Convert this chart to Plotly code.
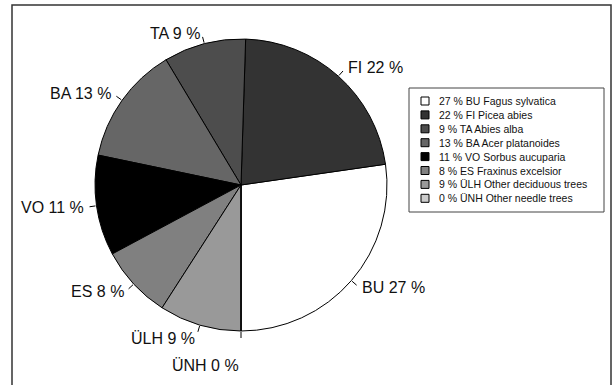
import math
import plotly.graph_objects as go

# Tree species shares of the stand
codes = ["BU", "FI", "TA", "BA", "VO", "ES", "ÜLH", "ÜNH"]
names = ["Fagus sylvatica", "Picea abies", "Abies alba", "Acer platanoides",
         "Sorbus aucuparia", "Fraxinus excelsior", "Other deciduous trees",
         "Other needle trees"]
shares = [27, 22, 9, 13, 11, 8, 9, 0]
colors = ["#ffffff", "#333333", "#4d4d4d", "#666666", "#000000", "#808080",
          "#999999", "#cccccc"]

# Page geometry (pixels)
W, H = 612, 385
cx, cy, R = 241, 185, 146          # pie centre and radius
FONT = "Arial, Liberation Sans, Helvetica, sans-serif"

# Extra shift (px, screen coords) for labels that would collide
label_nudge = {"ÜNH": (0, 23), "ÜLH": (0, 3)}


def px(x):
    return x / W


def py(y):
    return 1 - y / H


total = sum(shares)
spans = [s / total * 360 for s in shares]
# First slice (BU) runs clockwise up to six o'clock; the rest go counterclockwise
rotation = 180 - spans[0]

fig = go.Figure(go.Pie(
    labels=codes,
    values=shares,
    sort=False,
    direction="counterclockwise",
    rotation=rotation,
    marker=dict(colors=colors, line=dict(color="#000000", width=1)),
    textinfo="none",
    hoverinfo="skip",
    showlegend=False,
    domain=dict(x=[px(cx - R), px(cx + R)], y=[py(cy + R), py(cy - R)]),
))

# Mid-angle of each slice, degrees clockwise from twelve o'clock
mids = [rotation + spans[0] / 2]
edge = rotation
for s in spans[1:]:
    mids.append(edge - s / 2)
    edge -= s

shapes = []
annotations = []
for code, share, ang in zip(codes, shares, mids):
    t = math.radians(ang)
    sx, sy = math.sin(t), -math.cos(t)
    # short leader tick
    shapes.append(dict(type="line", xref="paper", yref="paper",
                       x0=px(cx + (R + 1) * sx), y0=py(cy + (R + 1) * sy),
                       x1=px(cx + (R + 7) * sx), y1=py(cy + (R + 7) * sy),
                       line=dict(color="#000000", width=1)))
    dx, dy = label_nudge.get(code, (0, 0))
    annotations.append(dict(
        xref="paper", yref="paper",
        x=px(cx + (R + 11) * sx), y=py(cy + (R + 11) * sy),
        xshift=dx, yshift=-dy,
        xanchor="left" if sx > 1e-6 else "right", yanchor="middle",
        text=f"{code} {share} %", showarrow=False,
        font=dict(family=FONT, size=16, color="#111111")))

# Legend box with swatches
lx0, lx1, ly0, ly1 = 409, 604, 88, 212
shapes.append(dict(type="rect", xref="paper", yref="paper",
                   x0=px(lx0), x1=px(lx1), y0=py(ly1), y1=py(ly0),
                   line=dict(color="#444444", width=1), fillcolor="#ffffff"))
row0, row_step = 101, 13.9
for i, (code, name, share, col) in enumerate(zip(codes, names, shares, colors)):
    ry = row0 + i * row_step
    shapes.append(dict(type="rect", xref="paper", yref="paper",
                       x0=px(421), x1=px(429), y0=py(ry + 4), y1=py(ry - 4),
                       line=dict(color="#000000", width=1), fillcolor=col))
    annotations.append(dict(
        xref="paper", yref="paper", x=px(437), y=py(ry),
        xanchor="left", yanchor="middle", showarrow=False,
        text=f"{share} % {code} {name}",
        font=dict(family=FONT, size=10.5, color="#111111")))

# Outer frame
shapes.append(dict(type="rect", xref="paper", yref="paper",
                   x0=px(12), x1=px(611), y0=-0.1, y1=py(5),
                   line=dict(color="#333333", width=1.5)))

fig.update_layout(
    width=W, height=H,
    margin=dict(l=0, r=0, t=0, b=0),
    paper_bgcolor="#ffffff", plot_bgcolor="#ffffff",
    shapes=shapes, annotations=annotations,
    font=dict(family=FONT),
)

fig.write_html("out.html")
